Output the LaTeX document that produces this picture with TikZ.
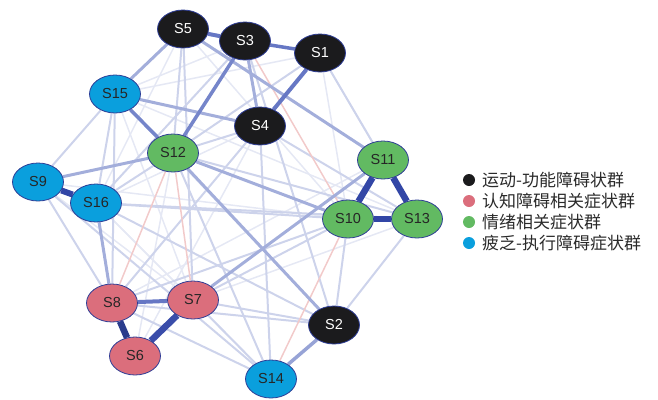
\documentclass[tikz,border=0pt]{standalone}
\usepackage{fontspec}
\setmainfont{Liberation Sans}
\newfontfamily\cjk{Noto Sans CJK SC}
\usetikzlibrary{shapes.geometric,backgrounds}

\definecolor{motorc}{HTML}{1B1B1D}
\definecolor{cognc}{HTML}{DB6E7C}
\definecolor{emoc}{HTML}{62BA62}
\definecolor{fatc}{HTML}{0A9FDD}
\definecolor{rimc}{HTML}{2E3D96}
\definecolor{wA}{HTML}{3246A6}
\definecolor{wB}{HTML}{6677C4}
\definecolor{wC}{HTML}{A3AEDB}
\definecolor{wD}{HTML}{CDD3EB}
\definecolor{wE}{HTML}{E5E8F4}
\definecolor{negc}{HTML}{F2CACA}
\definecolor{legink}{HTML}{2A2A2A}

\begin{document}
\begin{tikzpicture}[x=1pt,y=-1pt,
  sym/.style={ellipse, minimum width=51pt, minimum height=38pt, inner sep=0pt,
    draw=rimc, line width=0.8pt, font=\fontsize{14.5}{14.5}\selectfont},
  motor/.style={sym, fill=motorc, text=white},
  cogn/.style={sym, fill=cognc, text=black!85},
  emo/.style={sym, fill=emoc, text=black!85},
  fat/.style={sym, fill=fatc, text=black!85},
  eA/.style={draw=wA, line width=6.5pt},
  eB/.style={draw=wB, line width=4pt},
  eC/.style={draw=wC, line width=3pt},
  eD/.style={draw=wD, line width=2pt},
  eE/.style={draw=wE, line width=1.5pt},
  eN/.style={draw=negc, line width=1.5pt},
  legdot/.style={circle, minimum size=12pt, inner sep=0pt},
  legtext/.style={anchor=west, inner sep=0pt, text=legink,
    font=\cjk\fontsize{17}{17}\selectfont}
]
\useasboundingbox (0,0) rectangle (658,399);

% symptom nodes
\node[motor] (S5)  at (183,29)  {S5};
\node[motor] (S3)  at (245,41)  {S3};
\node[motor] (S1)  at (320,53)  {S1};
\node[fat]   (S15) at (115,94)  {S15};
\node[motor] (S4)  at (260,126) {S4};
\node[emo]   (S12) at (173,153) {S12};
\node[emo]   (S11) at (383,160) {S11};
\node[fat]   (S9)  at (38,182)  {S9};
\node[fat]   (S16) at (96,203)  {S16};
\node[emo]   (S10) at (348,219) {S10};
\node[emo]   (S13) at (417,219) {S13};
\node[cogn]  (S8)  at (112,303) {S8};
\node[cogn]  (S7)  at (193,300) {S7};
\node[motor] (S2)  at (334,325) {S2};
\node[cogn]  (S6)  at (135,356) {S6};
\node[fat]   (S14) at (271,379) {S14};

% partial correlations, drawn behind the nodes
\begin{scope}[on background layer]
  % very weak
  \foreach \a/\b in {S1/S15, S5/S1, S3/S15, S1/S10, S16/S7, S9/S7, S15/S7,
      S5/S10, S15/S13, S9/S10, S4/S6, S12/S6, S16/S14, S1/S13, S5/S16,
      S4/S16, S11/S8, S13/S7, S15/S2}
    \draw[eE] (\a) -- (\b);
  % weak
  \foreach \a/\b in {S15/S9, S1/S12, S4/S12, S4/S8, S5/S12, S15/S16,
      S16/S12, S16/S10, S9/S8, S14/S7, S14/S12, S14/S8, S2/S7, S2/S8,
      S2/S10, S2/S13, S1/S11, S4/S13, S12/S13, S7/S10, S8/S10, S16/S2,
      S9/S14, S4/S14, S5/S7, S15/S8, S16/S13, S3/S16, S3/S2}
    \draw[eD] (\a) -- (\b);
  % negative
  \foreach \a/\b in {S12/S8, S12/S7, S10/S14, S3/S10}
    \draw[eN] (\a) -- (\b);
  % moderate
  \foreach \a/\b in {S3/S4, S15/S4, S5/S15, S12/S9, S5/S11, S12/S10,
      S7/S11, S12/S2, S16/S8}
    \draw[eC] (\a) -- (\b);
  % strong
  \draw[eB] (S1) -- (S4);
  \draw[eB] (S5) -- (S3);
  \draw[eB, line width=3.5pt] (S3) -- (S1);
  \draw[eB] (S8) -- (S7);
  \draw[eB, draw=wB!75!wC, line width=3.5pt] (S3) -- (S12);
  \draw[eB, draw=wB!75!wC, line width=3.5pt] (S15) -- (S12);
  \draw[eB, draw=wC!80!wB, line width=3.5pt] (S2) -- (S14);
  % strongest
  \draw[eA, line width=6pt] (S9) -- (S16);
  \draw[eA, draw=wA!85!black] (S8) -- (S6);
  \draw[eA, draw=wA!85!wB] (S7) -- (S6);
  \draw[eA] (S11) -- (S10);
  \draw[eA] (S11) -- (S13);
  \draw[eA, line width=5.5pt] (S10) -- (S13);
\end{scope}

% legend
\node[legdot, fill=motorc] (L1) at (469,180) {};
\node[legdot, fill=cognc]  (L2) at (469,201) {};
\node[legdot, fill=emoc]   (L3) at (469,222) {};
\node[legdot, fill=fatc]   (L4) at (469,243) {};
\node[legtext] (T1) at (482,180) {运动-功能障碍状群};
\node[legtext] (T2) at (482,201) {认知障碍相关症状群};
\node[legtext] (T3) at (482,222) {情绪相关症状群};
\node[legtext] (T4) at (482,243) {疲乏-执行障碍症状群};
\end{tikzpicture}
\end{document}
